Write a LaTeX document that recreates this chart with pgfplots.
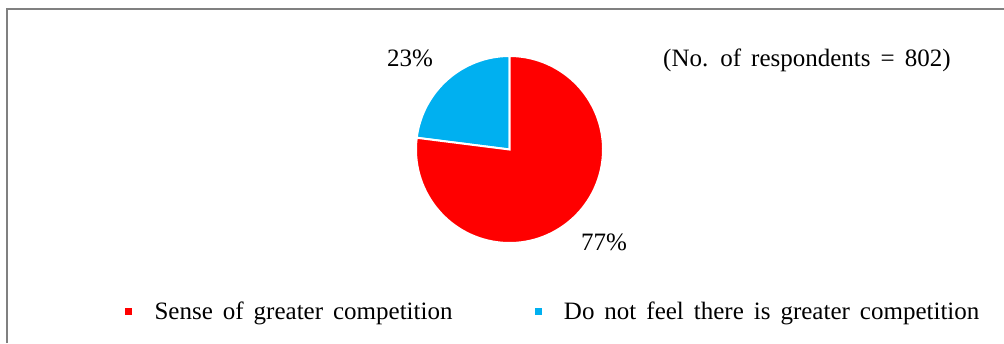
\documentclass[border=0pt]{standalone}
\usepackage{fontspec}
\setmainfont{Liberation Serif}[WordSpace=1.6]
\usepackage{pgfplots}
\usepackage{pgfplotstable}
\pgfplotsset{compat=1.18}
\definecolor{pieRed}{RGB}{255,0,0}
\definecolor{pieBlue}{RGB}{0,176,240}
\definecolor{frameGray}{RGB}{128,128,128}

\pgfplotstableread{
label value
Sense 77
NotFeel 23
}\piedata

\begin{document}
\begin{tikzpicture}
\pgfplotstablegetelem{0}{value}\of\piedata \edef\va{\pgfplotsretval}
\pgfplotstablegetelem{1}{value}\of\piedata \edef\vb{\pgfplotsretval}
\pgfmathsetmacro\angB{90+3.6*\vb}
\begin{axis}[
  width=1004pt, height=343pt, scale only axis,
  xmin=0, xmax=1004, ymin=0, ymax=343,
  hide axis, clip=false,
  font=\fontsize{25}{30}\selectfont,
  legend columns=2,
  legend style={at={(axis cs:122,32)}, anchor=west, draw=none, fill=none,
    font=\fontsize{25}{30}\selectfont,
    /tikz/every even column/.append style={column sep=80pt},
    /tikz/every odd column/.append style={column sep=21pt}},
  legend image code/.code={\fill[#1] (0pt,-3pt) rectangle (6pt,3pt);},
]
\addlegendimage{pieRed}
\addlegendentry{Sense of greater competition}
\addlegendimage{pieBlue}
\addlegendentry{Do not feel there is greater competition}

\draw[frameGray, line width=2pt] (axis cs:7,0) -- (axis cs:7,334) -- (axis cs:1004,334);

\filldraw[fill=pieBlue, draw=white, line width=2pt] (axis cs:509.5,193.5) -- ++(90:93.5pt) arc[start angle=90, end angle=\angB, radius=93.5pt] -- cycle;
\filldraw[fill=pieRed, draw=white, line width=2pt] (axis cs:509.5,193.5) -- ++(\angB:93.5pt) arc[start angle=\angB, end angle=450, radius=93.5pt] -- cycle;

\node[anchor=base] at (axis cs:410,276) {\vb\%};
\node[anchor=base] at (axis cs:604,92) {\va\%};
\node[anchor=base west, inner sep=0pt] at (axis cs:663,276) {(No. of respondents = 802)};
\end{axis}
\pgfresetboundingbox
\useasboundingbox (current axis.south west) rectangle (current axis.north east);
\end{tikzpicture}
\end{document}
